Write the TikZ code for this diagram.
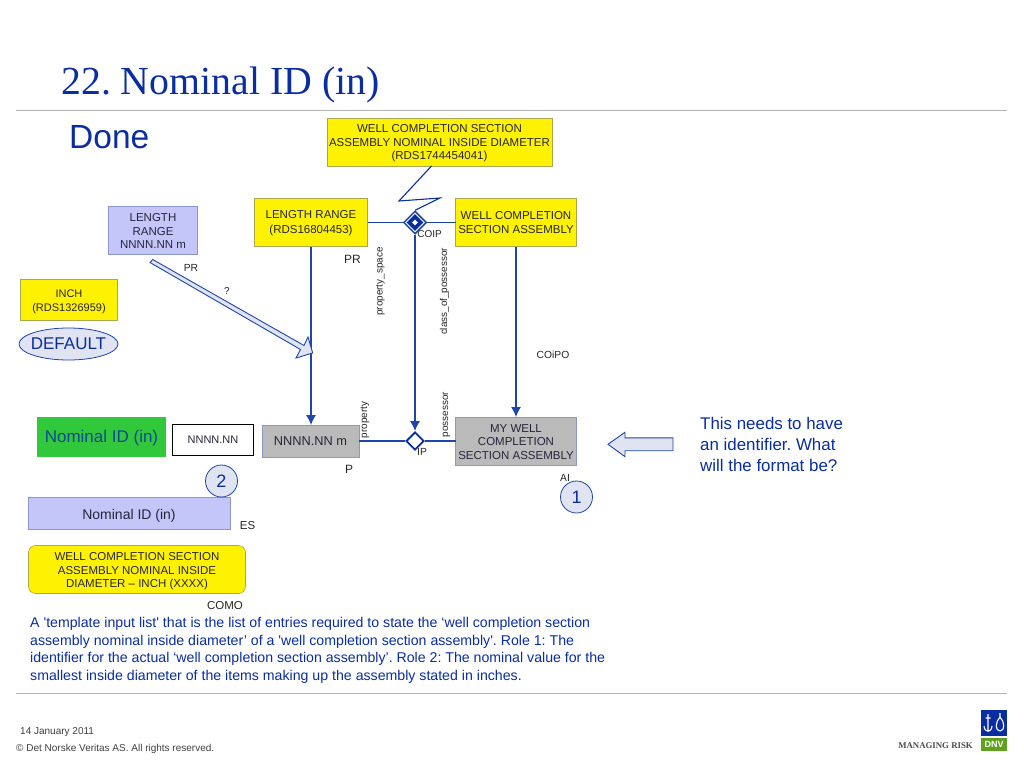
\documentclass[tikz,border=0pt]{standalone}
\usepackage{fontspec}
\setmainfont{Liberation Sans}
\newfontfamily\serifx{Liberation Serif}
\newfontfamily\sansx{Liberation Sans}
\usetikzlibrary{arrows.meta,shapes.geometric}
\AtBeginDocument{\frenchspacing}
\definecolor{dnvblue}{HTML}{0A2DA0}
\definecolor{linkblue}{HTML}{1F45A8}
\definecolor{boxedge}{HTML}{8C96C8}
\definecolor{lilac}{HTML}{C4C6FA}
\definecolor{ygold}{HTML}{A8A850}
\definecolor{pale}{HTML}{E0E4F2}
\definecolor{rulegray}{HTML}{B4B4B4}
\definecolor{nomgreen}{HTML}{32C83C}
\definecolor{nomtext}{HTML}{0A4A90}
\definecolor{dnvgreen}{HTML}{5FA020}
\definecolor{inktext}{HTML}{26263A}
\newcommand{\fsz}[2]{\fontsize{#1}{#2}\selectfont}
\newcommand{\dn}[1]{\rule{0pt}{#1pt}}
\tikzset{
 x=1pt,y=-1pt,
 base/.style={align=center,inner sep=0pt,outer sep=0pt,text=inktext,font=\fsz{11.5}{13.5}},
 ybox/.style={base,fill=yellow,draw=ygold,line width=.6pt},
 lbox/.style={base,fill=lilac,draw=boxedge,line width=.6pt},
 gbox/.style={base,fill=black!27,draw=boxedge,line width=.6pt},
 lab/.style={inner sep=0pt,text=black!85,font=\fsz{10.3}{12}},
 vlab/.style={lab,rotate=90,font=\fsz{9.9}{12}},
 link/.style={draw=linkblue,line width=1.3pt},
 arr/.style={link,-{Latex[length=10pt,width=10pt]}},
 num/.style={circle,draw=linkblue,fill=pale,line width=.8pt,minimum size=32pt,inner sep=0pt,text=dnvblue,font=\fsz{18}{20}},
 bluetxt/.style={inner sep=0pt,text=dnvblue},
 rulex/.style={draw=rulegray,line width=.7pt},
}
\begin{document}
\begin{tikzpicture}
\useasboundingbox (0,0) rectangle (1024,768);
\fill[white] (0,0) rectangle (1024,768);
\coordinate (r1a) at (16,110.5); \coordinate (r1b) at (1007,110.5);
\coordinate (r2a) at (16,693.5); \coordinate (r2b) at (1007,693.5);
\draw[rulex] (r1a) -- (r1b);
\draw[rulex] (r2a) -- (r2b);
\node[bluetxt,anchor=base west,font=\serifx\fsz{39.8}{44}] (title) at (61,94) {22. Nominal ID (in)};
\node[bluetxt,anchor=base west,font=\fsz{33.5}{36}] (done) at (69,148) {Done};

\node[ybox,minimum width=225pt,minimum height=48pt] (top) at (439.5,142) {\dn{11}WELL COMPLETION SECTION\\ASSEMBLY NOMINAL INSIDE DIAMETER\\(RDS1744454041)};
\node[ybox,minimum width=113pt,minimum height=48pt,font=\fsz{11.5}{15}] (lr) at (311,222.5) {\dn{10}LENGTH RANGE\\(RDS16804453)};
\node[ybox,minimum width=121pt,minimum height=48pt] (wcsa) at (516,222.5) {WELL COMPLETION\\SECTION ASSEMBLY};
\node[lbox,minimum width=89pt,minimum height=48pt] (lrn) at (153,230) {\dn{10}LENGTH\\RANGE\\NNNN.NN m};
\node[ybox,minimum width=97pt,minimum height=41pt,font=\fsz{11}{14}] (inch) at (69,300) {\dn{10.5}INCH\\(RDS1326959)};
\node[ellipse,draw=linkblue,fill=pale,line width=.8pt,minimum width=99pt,minimum height=32pt,inner sep=-4pt,text=dnvblue,font=\fsz{17}{19}] (def) at (68.5,344) {DEFAULT};

\node[inner sep=0pt,fill=nomgreen,minimum width=129pt,minimum height=40pt,text=nomtext,font=\fsz{17}{19}] (nom) at (101.5,436.5) {\rule{0pt}{16pt}Nominal ID (in)};
\node[base,draw=black,fill=white,line width=1.1pt,minimum width=81pt,minimum height=31pt,font=\fsz{11}{12}] (nnn) at (213,440) {NNNN.NN};
\node[gbox,minimum width=97pt,minimum height=32pt,font=\fsz{12.8}{14}] (nm) at (310.5,441) {NNNN.NN m};
\node[gbox,minimum width=121pt,minimum height=48pt] (my) at (516,441) {\dn{10}MY WELL\\COMPLETION\\SECTION ASSEMBLY};
\node[lbox,minimum width=202pt,minimum height=32pt,font=\fsz{14}{16}] (es) at (129,513.5) {\dn{14}Nominal ID (in)};
\node[num] (n2) at (221.5,481) {2};
\node[num] (n1) at (576.5,497) {1};
\node[ybox,rounded corners=7pt,minimum width=217pt,minimum height=48pt] (como) at (137,569.5) {\dn{11.5}WELL COMPLETION SECTION\\ASSEMBLY NOMINAL INSIDE\\DIAMETER – INCH (XXXX)};

\node[diamond,draw=linkblue,fill=white,line width=1.5pt,minimum size=23pt,inner sep=0pt] (coip) at (415,222.5) {};
\node[diamond,fill=dnvblue,minimum size=17pt,inner sep=0pt] (coipin) at (415,222.5) {};
\node[diamond,fill=white,minimum size=6pt,inner sep=0pt] (coipc) at (415,222.5) {};
\node[diamond,draw=dnvblue,fill=white,line width=1.9pt,minimum size=18pt,inner sep=0pt] (ip) at (415,441) {};

\draw[link] (lr.east |- coip) -- (coip.west);
\draw[link] (coip.east) -- (wcsa.west |- coip);
\draw[arr] (coip.south) -- (ip.north);
\draw[arr] (lr.south) -- (lr.south |- nm.north);
\draw[arr] (wcsa.south) -- (my.north);
\draw[link] (nm.east) -- (ip.west);
\draw[link] (ip.east) -- (my.west);
\coordinate (zz0) at (431.5,166);
\coordinate (zz1) at (399,201);
\coordinate (zz2) at (440,198);
\draw[draw=dnvblue,line width=1.1pt] (zz0) -- (zz1) -- (zz2) -- (coip.north);

\draw[draw=linkblue,fill=pale,line width=.9pt,line join=miter] (150,262.5) -- (152.7,259.5) -- (304,345.5) -- (308,337) -- (312.7,353) -- (296,358) -- (300.5,349.5) -- cycle;

\draw[draw=linkblue,fill=pale,line width=.9pt] (608,444.3) -- (625,432.3) -- (625,437.8) -- (673,437.8) -- (673,450.7) -- (625,450.7) -- (625,456.7) -- cycle;

\node[lab] (pr1) at (191,267.5) {PR};
\node[lab,font=\fsz{10}{12}] (q) at (227,291) {?};
\node[lab,font=\fsz{12}{14}] (pr2) at (352.5,259) {PR};
\node[lab,font=\fsz{10}{12}] (coipl) at (429.5,234) {COIP};
\node[vlab] (ps) at (380.5,281.5) {property\_space};
\node[vlab] (cop) at (444.5,291.5) {class\_of\_possessor};
\node[lab] (coipo) at (553,355) {COiPO};
\node[vlab] (prop) at (365,420) {property};
\node[vlab] (poss) at (446.5,414.5) {possessor};
\node[lab] (ipl) at (422,452) {IP};
\node[lab,font=\fsz{12}{14}] (pl) at (349,469) {P};
\node[lab] (ai) at (565,477.5) {AI};
\node[lab,font=\fsz{11.5}{13}] (esl) at (247.5,525.5) {ES};
\node[lab,font=\fsz{11.5}{13}] (comol) at (225,606) {COMO};

\node[bluetxt,anchor=north west,align=left,font=\fsz{16.9}{20.6}] (note) at (700,417.5) {This needs to have\\an identifier. What\\will the format be?};
\node[bluetxt,anchor=north west,align=left,font=\sansx\fsz{14.15}{17.5}] (para) at (30,617.5) {A 'template input list' that is the list of entries required to state the ‘well completion section\\assembly nominal inside diameter’ of a 'well completion section assembly'. Role 1: The\\identifier for the actual ‘well completion section assembly’. Role 2: The nominal value for the\\smallest inside diameter of the items making up the assembly stated in inches.};

\node[lab,anchor=base west,font=\fsz{10}{12},text=black!75] (date) at (20,734) {14 January 2011};
\node[lab,anchor=base west,font=\fsz{10}{12},text=black!75] (copy) at (16,751) {© Det Norske Veritas AS. All rights reserved.};
\node[lab,anchor=base east,font=\serifx\bfseries\fsz{8.8}{11},text=black!70] (mr) at (973,748) {MANAGING RISK};
\fill[dnvblue] (981,710) rectangle (1007,736);
\fill[dnvgreen] (981,738) rectangle (1007,751);
\node[inner sep=0pt,text=white,font=\bfseries\fsz{9}{10}] (dnv) at (994,744.5) {DNV};
\draw[white,line width=1.1pt] (988,714) -- (988,731) (984,726) .. controls (984.5,733) and (991.5,733) .. (992,726) (985.5,718) -- (990.5,718);
\draw[white,line width=1.1pt] (1000,713) -- (1000,717) (1000,717) .. controls (995,722) and (995,731) .. (1000,731) .. controls (1005,731) and (1005,722) .. (1000,717);
\end{tikzpicture}
\end{document}
